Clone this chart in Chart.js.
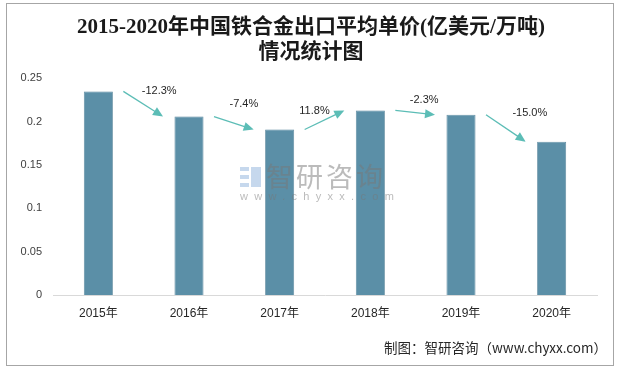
<!DOCTYPE html>
<html>
<head>
<meta charset="utf-8">
<script src="https://cdn.jsdelivr.net/npm/chart.js@4/dist/chart.umd.min.js"></script>
<style>
  html, body { margin: 0; padding: 0; background: #fff; }
  #wrap { width: 622px; height: 369px; position: relative; }
</style>
</head>
<body>
<div id="wrap"><canvas id="chart"></canvas></div>
<script>
// data
const years = ['2015年', '2016年', '2017年', '2018年', '2019年', '2020年'];
const prices = [0.235, 0.206, 0.191, 0.213, 0.208, 0.177];
const growth = ['-12.3%', '-7.4%', '11.8%', '-2.3%', '-15.0%'];
const yTicks = [0, 0.05, 0.1, 0.15, 0.2, 0.25];

const sans = "'Liberation Sans', 'Noto Sans CJK SC', sans-serif";

// frame, source line and watermark
const decor = {
    id: 'decor',
    beforeDraw(chart) {
        const ctx = chart.ctx;
        ctx.save();
        ctx.fillStyle = '#fff';
        ctx.fillRect(0, 0, chart.width, chart.height);
        ctx.strokeStyle = '#a6a6a6';
        ctx.lineWidth = 1;
        ctx.strokeRect(6.5, 3.5, 607, 362);
        ctx.restore();
    },
    afterDatasetsDraw(chart) {
        const ctx = chart.ctx;
        const cx = chart.width / 2;
        ctx.save();
        // logo
        ctx.fillStyle = 'rgba(160,190,225,0.6)';
        ctx.fillRect(cx - 71, 167, 9, 4);
        ctx.fillRect(cx - 71, 175, 9, 4);
        ctx.fillRect(cx - 71, 183, 9, 4);
        ctx.fillRect(cx - 60, 167, 10, 20);
        ctx.fillStyle = 'rgba(120,120,120,0.5)';
        ctx.font = "27px 'Noto Sans CJK SC'";
        ctx.textBaseline = 'middle';
        ctx.textAlign = 'left';
        ctx.letterSpacing = '3px';
        ctx.fillText('智研咨询', cx - 45, 177);
        ctx.font = "11px 'Liberation Sans'";
        ctx.letterSpacing = '6.3px';
        ctx.fillText('www.chyxx.com', cx - 71, 197);
        ctx.restore();
    },
    afterDraw(chart) {
        const ctx = chart.ctx;
        ctx.save();
        ctx.fillStyle = '#262626';
        ctx.font = "13.5px 'Noto Sans CJK SC'";
        ctx.textAlign = 'right';
        ctx.textBaseline = 'middle';
        ctx.fillText('制图：智研咨询（www.chyxx.com）', 607, 348);
        ctx.restore();
    }
};

// growth arrows between bars
const arrows = {
    id: 'arrows',
    afterDatasetsDraw(chart, args, opts) {
        const ctx = chart.ctx;
        const x = chart.scales.x, y = chart.scales.y;
        ctx.save();
        for (let i = 0; i < growth.length; i++) {
            const x0 = x.getPixelForValue(i) + 25;
            const y0 = y.getPixelForValue(prices[i]);
            const x1 = x.getPixelForValue(i + 1) - 26;
            const y1 = y.getPixelForValue(prices[i + 1]);
            const ang = Math.atan2(y1 - y0, x1 - x0);
            const head = 10;
            ctx.strokeStyle = '#5cbdb6';
            ctx.fillStyle = '#5cbdb6';
            ctx.lineWidth = 1.3;
            ctx.beginPath();
            ctx.moveTo(x0, y0);
            ctx.lineTo(x1 - Math.cos(ang) * head * 0.8, y1 - Math.sin(ang) * head * 0.8);
            ctx.stroke();
            ctx.beginPath();
            ctx.moveTo(x1, y1);
            ctx.lineTo(x1 - head * Math.cos(ang) + 4.5 * Math.sin(ang), y1 - head * Math.sin(ang) - 4.5 * Math.cos(ang));
            ctx.lineTo(x1 - head * Math.cos(ang) - 4.5 * Math.sin(ang), y1 - head * Math.sin(ang) + 4.5 * Math.cos(ang));
            ctx.closePath();
            ctx.fill();

            const off = opts.offsets[i];
            ctx.fillStyle = '#262626';
            ctx.font = '11px ' + sans;
            ctx.textAlign = 'center';
            ctx.textBaseline = 'middle';
            ctx.fillText(growth[i], (x0 + x1) / 2 + off[0], (y0 + y1) / 2 + off[1]);
        }
        ctx.restore();
    }
};

new Chart(document.getElementById('chart'), {
    type: 'bar',
    data: {
        labels: years,
        datasets: [{
            data: prices,
            backgroundColor: '#5b8fa7',
            borderColor: '#4f7f96',
            borderWidth: 0.8,
            barPercentage: 0.32,
            categoryPercentage: 1,
        }]
    },
    options: {
        responsive: true,
        maintainAspectRatio: false,
        animation: false,
        layout: {
            padding: 0,
        },
        scales: {
            x: {
                grid: { display: false, drawTicks: false },
                border: { color: '#d9d9d9', width: 1 },
                ticks: { color: '#262626', font: { size: 12, family: sans }, padding: 11 },
                afterFit(scale) { scale.height = 74; },
            },
            y: {
                min: 0,
                max: 0.25,
                afterBuildTicks(scale) { scale.ticks = yTicks.map(v => ({ value: v })); },
                grid: { display: false, drawTicks: false },
                border: { display: false },
                ticks: {
                    color: '#404040',
                    font: { size: 11, family: sans },
                    padding: 11,
                    callback: value => String(value),
                },
                afterFit(scale) { scale.width = 53; },
            },
            // empty right-hand axis, only keeps room on the right
            yRight: {
                position: 'right',
                min: 0,
                max: 0.25,
                grid: { display: false, drawTicks: false },
                border: { display: false },
                ticks: { display: false },
                afterFit(scale) { scale.width = 25; },
            }
        },
        plugins: {
            legend: { display: false },
            tooltip: { enabled: false },
            title: {
                display: true,
                text: ['2015-2020年中国铁合金出口平均单价(亿美元/万吨)', '情况统计图'],
                color: '#1a1a1a',
                font: { size: 21, weight: 'bold', family: "'Liberation Serif', 'Noto Sans CJK SC', serif", lineHeight: 1.2 },
                padding: { top: 15, bottom: 13 },
            },
            arrows: {
                offsets: [[16, -13], [10, -19], [-10, -9], [9, -13], [24, -15]],
            },
        }
    },
    plugins: [decor, arrows],
});
</script>
</body>
</html>
